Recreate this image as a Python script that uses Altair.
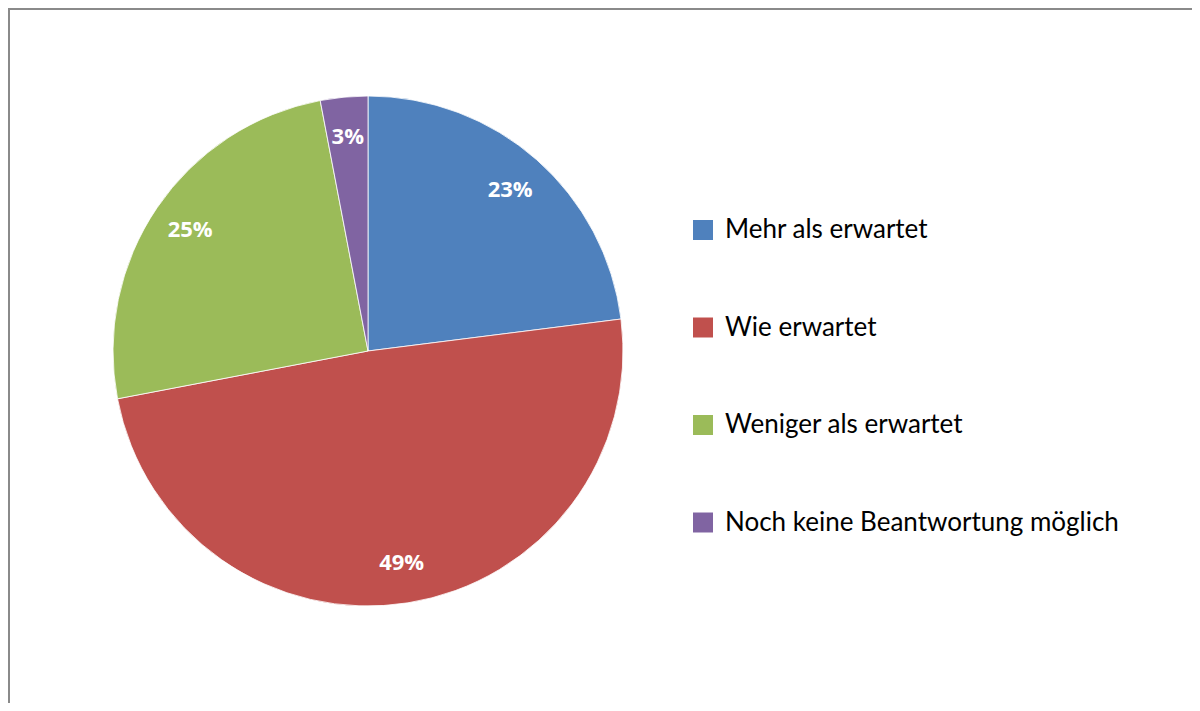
import altair as alt
import pandas as pd

categories = ["Mehr als erwartet", "Wie erwartet", "Weniger als erwartet", "Noch keine Beantwortung möglich"]
values = [23, 49, 25, 3]
labels = ["23%", "49%", "25%", "3%"]
colors = ["#4F81BD", "#C0504D", "#9BBB59", "#8064A2"]
order = [0, 1, 2, 3]

df = pd.DataFrame({"cat": categories, "value": values, "label": labels, "idx": order})

W, H = 1184, 695
CX, CY, R = 360, 343, 255

base = alt.Chart(df).encode(
    theta=alt.Theta("value:Q", stack=True),
    order=alt.Order("idx:Q", sort="ascending"),
    x=alt.value(CX),
    y=alt.value(CY),
)

pie = base.mark_arc(radius=R, stroke="white", strokeWidth=0.8).encode(
    color=alt.Color(
        "cat:N",
        scale=alt.Scale(domain=categories, range=colors),
        sort=categories,
        legend=alt.Legend(
            title=None,
            orient="none",
            legendX=682,
            legendY=209,
            symbolType="square",
            symbolSize=400,
            symbolStrokeWidth=0,
            labelFontSize=26,
            labelFont="Lato",
            labelColor="#000000",
            labelOffset=9,
            rowPadding=71.5,
            padding=0,
            labelLimit=600,
        ),
    )
)

text = base.mark_text(
    radius=215, fontSize=22, fontWeight="bold", color="white", font="Open Sans"
).encode(text="label:N")

border_df = pd.DataFrame({"k": [0]})
left_rule = alt.Chart(border_df).mark_rule(color="#8a8a8a", strokeWidth=2).encode(
    x=alt.value(1), y=alt.value(0), y2=alt.value(H)
)
top_rule = alt.Chart(border_df).mark_rule(color="#8a8a8a", strokeWidth=2).encode(
    x=alt.value(0), x2=alt.value(W), y=alt.value(1)
)

chart = (
    alt.layer(pie, text, left_rule, top_rule)
    .properties(
        width=W,
        height=H,
        autosize=alt.AutoSizeParams(type="none"),
        padding=0,
    )
    .configure_view(stroke="transparent", strokeWidth=0)
    .configure(background="white")
)

chart.save("out.html", embed_options={"renderer": "svg", "actions": False})
